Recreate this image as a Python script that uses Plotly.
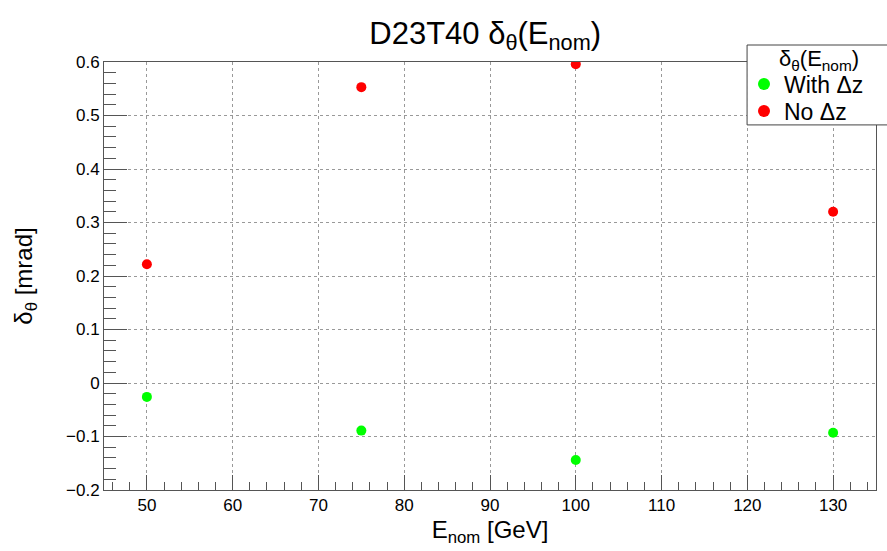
import plotly.graph_objects as go

# Nominal beam energies [GeV]
energies = [50, 75, 100, 130]
# delta_theta [mrad] with and without the Delta z correction
with_dz = [-0.026, -0.089, -0.144, -0.093]
no_dz = [0.222, 0.553, 0.596, 0.320]

x_ticks = [50, 60, 70, 80, 90, 100, 110, 120, 130]
y_ticks = [-0.2, -0.1, 0, 0.1, 0.2, 0.3, 0.4, 0.5, 0.6]

FONT = "Liberation Sans, Arial, Helvetica, sans-serif"

fig = go.Figure()
fig.add_trace(go.Scatter(
    x=energies, y=with_dz, mode="markers", name="With Δz", legend="legend",
    marker=dict(color="#00ff00", size=10, line=dict(width=0)),
))
fig.add_trace(go.Scatter(
    x=energies, y=no_dz, mode="markers", name="No Δz", legend="legend2",
    marker=dict(color="#ff0000", size=10, line=dict(width=0)),
))

axis_common = dict(
    showline=True, linecolor="#555555", linewidth=1, mirror=True,
    ticks="inside", tickcolor="#555555",
    showgrid=True, gridcolor="#999999", griddash="dot", gridwidth=1,
    zeroline=False,
    tickfont=dict(family=FONT, size=17, color="black"),
)

fig.update_xaxes(
    range=[45, 135], tickvals=x_ticks, ticklen=15,
    minor=dict(ticks="inside", ticklen=8, dtick=2, tick0=0,
               tickcolor="#555555", showgrid=False),
    title=dict(text="E<sub>nom</sub> [GeV]", font=dict(family=FONT, size=24, color="black"),
               standoff=6),
    **axis_common,
)
fig.update_yaxes(
    range=[-0.2, 0.6], tickvals=y_ticks, ticklen=23,
    minor=dict(ticks="inside", ticklen=12, dtick=0.02, tick0=0,
               tickcolor="#555555", showgrid=False),
    title=dict(text="δ<sub>θ</sub> [mrad]", font=dict(family=FONT, size=24, color="black"),
               standoff=26),
    **axis_common,
)

# Legend frame (extends past the right edge of the canvas) and its header
fig.add_shape(
    type="rect", xref="paper", yref="paper",
    x0=0.833, x1=1.02, y0=0.853, y1=1.0397,
    line=dict(color="#444444", width=1), fillcolor="white", layer="above",
)
fig.add_annotation(
    text="δ<sub>θ</sub>(E<sub>nom</sub>)", xref="paper", yref="paper",
    x=0.926, y=1.005, xanchor="center", yanchor="middle", showarrow=False,
    font=dict(family=FONT, size=22, color="black"),
)

legend_style = dict(
    x=0.829, xanchor="left", yanchor="middle",
    bgcolor="rgba(0,0,0,0)", borderwidth=0,
    font=dict(family=FONT, size=23, color="black"),
    itemsizing="constant",
)

fig.update_layout(
    width=887, height=551,
    margin=dict(l=104, r=11, t=62, b=61),
    paper_bgcolor="white", plot_bgcolor="white",
    title=dict(text="D23T40 δ<sub>θ</sub>(E<sub>nom</sub>)", x=0.547, xanchor="center",
               y=0.94, yanchor="middle",
               font=dict(family=FONT, size=31, color="black")),
    showlegend=True,
    legend=dict(y=0.9486, **legend_style),
    legend2=dict(y=0.8855, **legend_style),
)

fig.write_html("out.html")
